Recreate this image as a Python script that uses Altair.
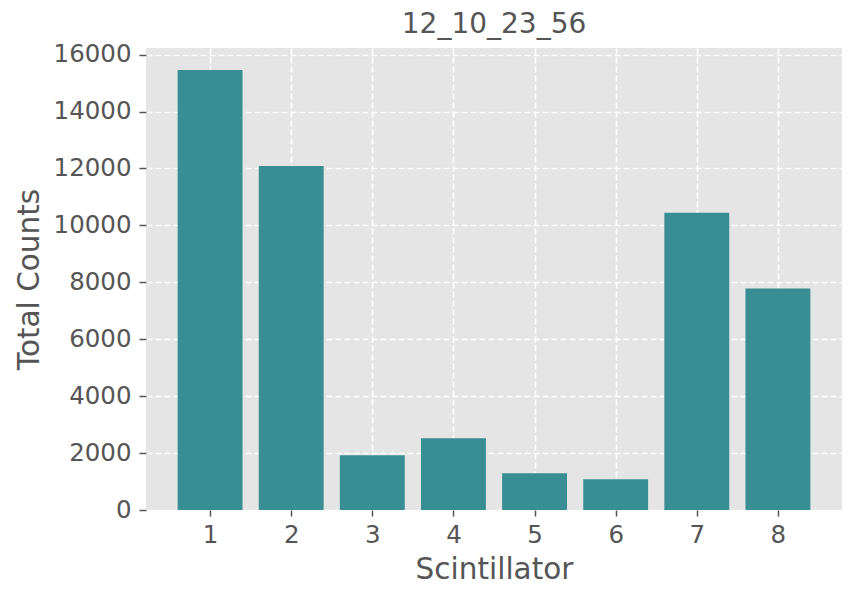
import altair as alt
import pandas as pd

scintillators = [1, 2, 3, 4, 5, 6, 7, 8]
counts = [15460, 12090, 1920, 2520, 1290, 1080, 10440, 7780]
y_ticks = [0, 2000, 4000, 6000, 8000, 10000, 12000, 14000, 16000]

df = pd.DataFrame({"Scintillator": scintillators, "Counts": counts})

FONT = "DejaVu Sans"
TEXT = "#555555"

bars = (
    alt.Chart(df)
    .transform_calculate(x0="datum.Scintillator - 0.4", x1="datum.Scintillator + 0.4")
    .mark_bar(color="#388E92")
    .encode(
        x=alt.X(
            "x0:Q",
            scale=alt.Scale(domain=[0.21, 8.79], nice=False, zero=False),
            axis=alt.Axis(
                values=scintillators,
                format="d",
                title="Scintillator",
                grid=True,
                gridColor="#FFFFFF",
                gridDash=[6, 3],
                gridWidth=1.6,
                domain=False,
                tickColor=TEXT,
                tickSize=6,
                tickWidth=1.5,
                labelFontSize=24.5,
                labelFont=FONT,
                labelColor=TEXT,
                labelPadding=7,
                titleFontSize=29.5,
                titleFont=FONT,
                titleColor=TEXT,
                titleFontWeight="normal",
                titlePadding=9,
            ),
        ),
        x2="x1:Q",
        y=alt.Y(
            "Counts:Q",
            scale=alt.Scale(domain=[0, 16233], nice=False),
            axis=alt.Axis(
                values=y_ticks,
                format="d",
                title="Total Counts",
                grid=True,
                gridColor="#FFFFFF",
                gridDash=[6, 3],
                gridWidth=1.6,
                domain=False,
                tickColor=TEXT,
                tickSize=7,
                tickWidth=1.5,
                labelFontSize=24.5,
                labelFont=FONT,
                labelColor=TEXT,
                labelPadding=8,
                titleFontSize=29.5,
                titleFont=FONT,
                titleColor=TEXT,
                titleFontWeight="normal",
                titleAngle=270,
                titleX=-117,
                titleY=231,
                titleAlign="center",
                titleBaseline="middle",
            ),
        ),
        y2=alt.datum(0),
    )
)

chart = (
    bars.properties(
        width=696,
        height=462,
        background="#FFFFFF",
        title=alt.TitleParams(
            "12_10_23_56",
            font=FONT,
            fontSize=28,
            fontWeight="normal",
            color=TEXT,
            anchor="middle",
            frame="group",
            baseline="bottom",
            offset=6,
            dy=31,
        ),
        autosize=alt.AutoSizeParams(type="none"),
        padding={"left": 138, "top": 40, "right": 8, "bottom": 80},
    )
    .configure_view(fill="#E5E5E5", strokeWidth=0)
)

chart.save("out.html", embed_options={"renderer": "svg", "actions": False})
